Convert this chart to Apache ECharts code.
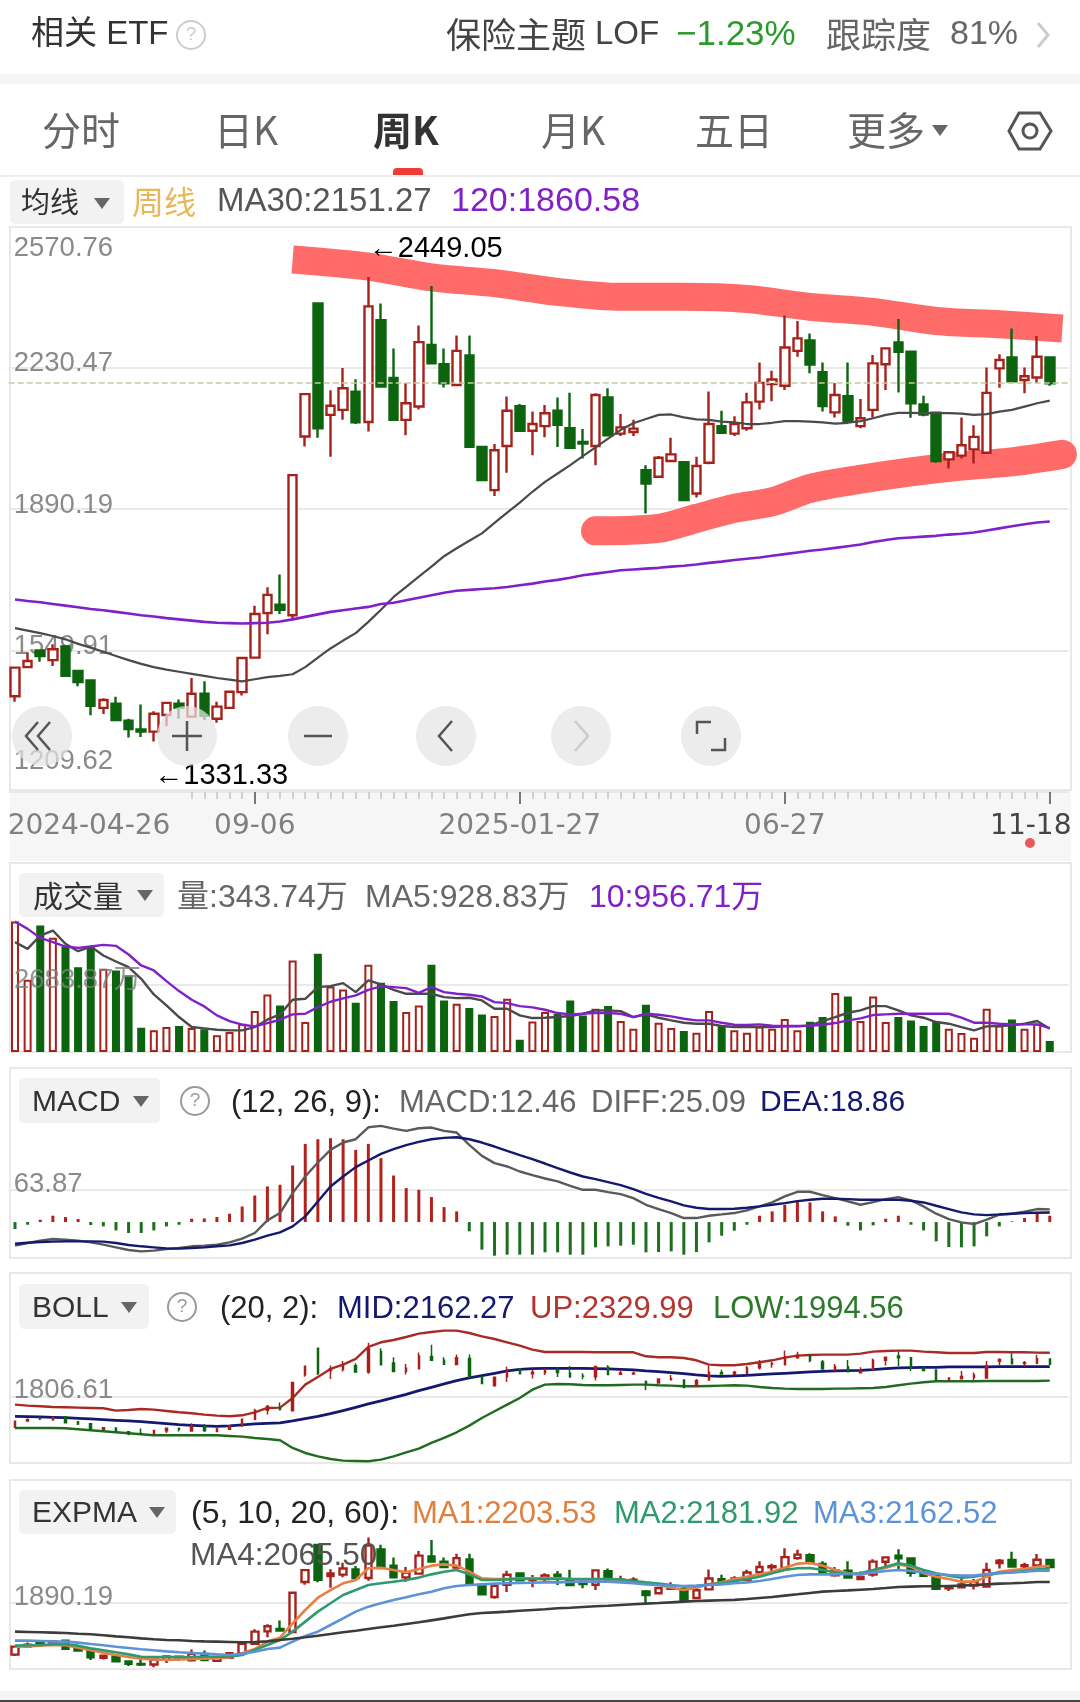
<!DOCTYPE html>
<html>
<head>
    <meta charset="utf-8">
    <title>周K</title>
    <script src="https://cdn.jsdelivr.net/npm/echarts@6/dist/echarts.min.js"></script>
    <style>
        html, body { margin: 0; padding: 0; background: #fff; }
        #chart { width: 1080px; height: 1702px; }
    </style>
</head>
<body>
<div id="chart"></div>
<script type="text/javascript">
    // 周线日期，最后一个空位给右边留白
    var categories = ['2024-04-26','05-03','05-10','05-17','05-24','05-31','06-07','06-14','06-21','06-28',
        '07-05','07-12','07-19','07-26','08-02','08-09','08-16','08-23','08-30','09-06',
        '09-13','09-20','09-27','10-04','10-11','10-18','10-25','11-01','11-08','11-15',
        '11-22','11-29','12-06','12-13','12-20','12-27','2025-01-03','01-10','01-17','01-24',
        '2025-01-27','02-07','02-14','02-21','02-28','03-07','03-14','03-21','03-28','04-03',
        '04-11','04-18','04-25','04-30','05-09','05-16','05-23','05-30','06-06','06-13',
        '06-20','06-27','07-04','07-11','07-18','07-25','08-01','08-08','08-15','08-22',
        '08-29','09-05','09-12','09-19','09-26','09-30','10-10','10-17','10-24','10-31',
        '11-07','11-14','11-18',''];
    var xLabelIdx = [0, 19, 40, 61, 82];

    var opens = [1440,1510,1550,1527,1560,1501,1478,1412,1422,1381,
        1360,1355,1395,1422,1391,1446,1386,1412,1450,1533,
        1640,1660,1635,2065,2385,2117,2129,2173,2100,2345,
        2206,2105,2137,2285,2239,2189,2260,2040,1936,2042,
        2138,2079,2090,2127,2085,2052,2042,2159,2072,2076,
        1984,1968,2006,2003,1928,2002,2090,2072,2085,2149,
        2191,2187,2271,2296,2220,2123,2162,2090,2129,2239,
        2291,2269,2142,2122,2010,2019,2034,2026,2229,2255,
        2201,2207,2255];
    var closes = [1509,1525,1537,1553,1489,1474,1417,1431,1383,1361,
        1355,1398,1424,1412,1446,1393,1415,1451,1532,1638,
        1684,1648,1972,2167,2085,2139,2181,2099,2378,2185,
        2105,2145,2292,2241,2193,2271,2040,1960,2032,2127,
        2079,2095,2121,2093,2038,2048,2165,2068,2087,2084,
        1952,2014,2022,1912,1994,2095,2074,2095,2147,2194,
        2202,2279,2301,2238,2138,2165,2103,2109,2241,2277,
        2269,2145,2118,2006,2027,2044,2064,2170,2249,2198,
        2210,2257,2193];
    var lows = [1427,1510,1523,1513,1489,1464,1394,1397,1383,1341,
        1342,1331.33,1368,1386,1389,1383,1376,1412,1442,1533,
        1589,1638,1625,2041,2062,2016,2105,2095,2077,2185,
        2105,2068,2130,2241,2183,2189,2040,1960,1922,1978,
        2079,2020,2063,2040,2038,2012,1996,2068,2066,2066,
        1880,1965,2006,1912,1918,1998,2074,2066,2079,2130,
        2150,2177,2257,2217,2125,2111,2103,2085,2111,2177,
        2171,2110,2114,2002,1988,2012,2000,2024,2182,2198,
        2169,2193,2187];
    var highs = [1509,1545,1550,1565,1560,1504,1478,1435,1439,1386,
        1420,1404,1427,1432,1484,1476,1427,1451,1535,1658,
        1702,1733,1972,2167,2385,2176,2230,2203,2449.05,2385,
        2277,2194,2332,2427,2277,2308,2308,2041,2047,2161,
        2143,2125,2141,2159,2170,2083,2169,2181,2119,2105,
        1996,2018,2062,2005,2016,2173,2127,2114,2170,2243,
        2223,2356,2343,2313,2243,2194,2243,2155,2261,2279,
        2348,2269,2163,2122,2030,2111,2092,2231,2263,2325,
        2231,2307,2255];
    var ma30 = [1604,1598,1592,1585,1577,1566,1557,1547,1537,1527,
        1518,1510,1504,1499,1494,1489,1484,1480,1476,1481,
        1486,1489,1493,1510,1533,1555,1574,1592,1619,1648,
        1679,1703,1728,1752,1777,1796,1814,1832,1857,1882,
        1906,1932,1956,1976,1996,2018,2039,2060,2081,2097,
        2107,2117,2118,2111,2106,2105,2101,2099,2095,2095,
        2098,2102,2102,2101,2099,2096,2098,2102,2109,2117,
        2122,2122,2121,2121,2121,2120,2117,2119,2125,2129,
        2137,2145,2151.27];
    var ma120 = [1673,1669,1666,1662,1658,1654,1650,1647,1643,1639,
        1635,1632,1628,1625,1622,1619,1617,1616,1615,1616,
        1617,1620,1625,1631,1637,1643,1647,1651,1655,1662,
        1665,1671,1677,1683,1689,1694,1696,1698,1700,1703,
        1707,1711,1716,1720,1725,1731,1735,1739,1743,1745,
        1747,1749,1752,1754,1757,1761,1764,1768,1771,1774,
        1778,1782,1786,1790,1793,1797,1801,1805,1811,1816,
        1820,1822,1824,1826,1829,1831,1834,1839,1844,1849,
        1854,1858,1860.58];
    // 手画的两条红线
    var upperIdx = [22,28,33,38,43,48,53,58,63,68,73,78,83];
    var upperVal = [2491,2474,2448,2434,2413,2401,2401,2396,2377,2365,2343,2335,2325];
    var lowerIdx = [46,51,54,57,60,63,67,71,75,79,83];
    var lowerVal = [1838,1844,1868,1892,1908,1940,1962,1980,1994,2004,2022];

    var volume = [5233,2897,5073,4579,4232,3404,4232,3338,3271,3071,
        975,868,1001,1041,961,908,668,801,1135,1642,
        2310,1869,3671,1202,3938,2630,2510,1976,3498,2777,
        2043,1602,1869,3498,2069,1936,1762,1509,1442,2136,
        494,1228,1602,1535,2069,1469,1736,1842,1242,935,
        1896,1175,961,841,774,1642,1041,868,774,1028,
        935,1322,868,1215,1402,2363,2229,1242,2229,1202,
        1402,1268,1041,1228,935,761,574,1736,1068,1308,
        935,1135,441];
    var volMa5 = [4406,4139,4673,4873,4339,4045,4232,3872,3631,3404,
        2937,2310,1869,1402,1001,948,894,868,868,1001,
        1295,1509,2096,2136,2603,2643,2763,2403,2870,2710,
        2496,2336,2336,2336,2203,2163,2176,2069,1736,1736,
        1469,1362,1375,1402,1442,1535,1669,1669,1642,1402,
        1509,1375,1268,1175,1135,1135,1041,1001,1001,1001,
        1001,1028,1028,1068,1242,1402,1575,1669,1842,1842,
        1669,1469,1375,1202,1135,1001,868,1028,1041,1068,
        1135,1242,929];
    var volMa10 = [5233,4940,4579,4406,4232,4179,4232,4299,4259,3912,
        3471,3271,2844,2443,2096,1829,1469,1242,1095,1028,
        1161,1295,1509,1535,1802,2016,2149,2270,2496,2630,
        2603,2563,2376,2603,2403,2336,2296,2229,2003,1962,
        1842,1789,1695,1562,1509,1535,1575,1562,1535,1402,
        1535,1495,1428,1335,1268,1268,1175,1095,1081,1108,
        1055,1041,1041,1055,1095,1161,1268,1348,1482,1509,
        1535,1535,1535,1535,1535,1375,1175,1175,1135,1108,
        1108,1108,957];

    var macd = [-13.8,-5.3,4.6,12.5,9.9,5.9,-5.9,-8.6,-16.5,-21.7,
        -21.7,-16.5,-8.6,-5.3,6.6,7.2,9.9,16.5,30.9,52.6,
        70.4,73.7,111.9,154.6,163.8,165.8,163.8,142.8,154.6,126.3,
        92.1,67.1,63.8,49.4,29.6,21.1,-18.4,-54.6,-66.5,-64.5,
        -64.5,-64.5,-59.9,-59.9,-64.5,-64.5,-50,-48,-46.7,-44.7,
        -59.9,-59.2,-57.9,-64.5,-59.2,-40.1,-27,-17.1,-5.3,12.5,
        21.1,34.2,42.8,38.8,21.1,11.2,-7.2,-16.5,-6.6,6.6,
        12.5,-5.3,-16.5,-38.2,-49.4,-50,-48,-28.3,-8.6,1.3,
        7.9,17.8,12.46];
    var diff = [-46.7,-41.5,-36.8,-33.6,-34.9,-36.8,-40.1,-44.7,-50,-55.3,
        -57.9,-56.6,-53.3,-51.3,-48,-46.7,-44.7,-40.1,-32.9,-21.7,
        3.3,17.8,57.2,90.1,117.8,142.8,157.3,163.8,187.5,190.2,
        184.9,180.3,185.6,186.9,180.3,177,152.7,130.9,116.5,109.9,
        100,92.8,86.2,80.3,71.7,63.8,63.8,59.2,55.3,47.4,
        34.2,25.7,17.8,7.9,7.9,12.5,15.1,17.8,23,30.9,
        38.8,50.7,59.9,59.9,53.3,47.4,40.8,34.2,39.5,45.4,
        49.4,42.8,30.9,16.5,5.9,-0.7,-3.9,4.6,14.5,16.5,
        20.4,25.7,25.09];
    var dea = [-42.8,-40.8,-39.5,-38.8,-38.2,-38.2,-38.2,-38.8,-41.5,-45.4,
        -48,-50,-52,-52.6,-51.3,-50,-48,-46.1,-41.5,-34.9,
        -27,-20.4,-8.6,11.2,40.8,70.4,90.1,108.6,121.7,134.9,
        144.1,152,158.6,163.8,166.5,167.8,163.8,157.3,149.4,140.8,
        132.3,124.4,115.8,106.6,98,90.1,84.9,79,73,65.1,
        55.9,48,40.8,32.9,28.3,25.7,25.7,26.3,28.3,30.9,
        34.2,37.5,41.5,44.1,46.1,46.1,45.4,44.1,44.1,44.1,
        44.1,42.1,38.8,32.2,25.7,19.1,15.1,13.8,15.1,16.5,
        17.8,18.4,18.86];

    var bollUp = [1707,1695,1687,1679,1675,1671,1667,1663,1635,1643,
        1655,1647,1631,1615,1603,1587,1575,1567,1579,1615,
        1667,1671,1787,1947,2039,2135,2187,2255,2399,2455,
        2483,2519,2559,2579,2595,2595,2567,2527,2495,2455,
        2415,2367,2339,2339,2339,2339,2335,2335,2335,2335,
        2287,2275,2275,2267,2239,2187,2179,2179,2195,2215,
        2239,2271,2295,2303,2307,2307,2307,2319,2343,2351,
        2355,2355,2343,2335,2327,2327,2327,2339,2339,2335,
        2335,2331,2329.99];
    var bollMid = [1567,1563,1559,1555,1551,1543,1535,1527,1519,1511,
        1503,1491,1479,1467,1459,1451,1447,1451,1463,1475,
        1483,1487,1511,1539,1567,1599,1635,1675,1715,1751,
        1791,1831,1875,1915,1955,1995,2027,2055,2083,2111,
        2131,2139,2143,2143,2143,2143,2139,2135,2131,2123,
        2111,2103,2091,2079,2063,2051,2047,2051,2059,2067,
        2075,2083,2091,2099,2107,2111,2115,2119,2127,2139,
        2147,2151,2155,2155,2159,2159,2159,2159,2163,2163,
        2163,2163,2162.27];
    var bollLow = [1427,1427,1427,1427,1423,1411,1399,1387,1375,1363,
        1351,1339,1339,1339,1339,1339,1339,1331,1323,1307,
        1295,1279,1187,1127,1087,1055,1035,1031,1027,1047,
        1087,1135,1179,1247,1307,1375,1455,1547,1627,1707,
        1787,1887,1947,1955,1951,1943,1939,1939,1943,1947,
        1947,1939,1935,1927,1927,1931,1935,1939,1935,1919,
        1907,1899,1895,1895,1895,1899,1899,1903,1907,1919,
        1939,1959,1975,1987,1987,1987,1987,1991,1991,1991,
        1991,1991,1994.56];

    var expma1 = [1508,1511,1517,1523,1520,1500,1477,1457,1437,1419,
        1405,1399,1394,1399,1402,1405,1408,1414,1451,1488,
        1552,1586,1709,1824,1930,1996,2054,2082,2183,2188,
        2168,2148,2177,2206,2217,2206,2154,2097,2091,2091,
        2097,2097,2097,2097,2091,2085,2091,2088,2080,2068,
        2054,2039,2016,1996,2016,2045,2062,2091,2111,2131,
        2154,2188,2223,2229,2206,2168,2140,2126,2160,2188,
        2217,2197,2140,2111,2091,2068,2068,2111,2154,2168,
        2177,2197,2203.53];
    var expma2 = [1517,1520,1523,1529,1529,1517,1494,1477,1460,1442,
        1422,1419,1419,1419,1419,1422,1422,1422,1437,1480,
        1523,1566,1638,1724,1810,1882,1953,1996,2039,2054,
        2068,2082,2103,2131,2154,2168,2131,2082,2082,2088,
        2091,2091,2091,2091,2091,2091,2091,2091,2088,2074,
        2062,2051,2039,2025,2031,2045,2054,2074,2091,2111,
        2140,2168,2183,2186,2168,2148,2134,2140,2168,2197,
        2226,2206,2168,2140,2120,2103,2111,2131,2140,2148,
        2160,2174,2181.92];
    var expma3 = [1560,1560,1557,1554,1552,1543,1531,1520,1508,1497,
        1486,1477,1468,1460,1454,1448,1442,1437,1448,1465,
        1488,1500,1552,1600,1638,1695,1752,1810,1853,1882,
        1911,1933,1959,1982,2011,2031,2039,2045,2051,2054,
        2057,2059,2062,2062,2065,2068,2068,2068,2062,2054,
        2045,2039,2034,2031,2034,2039,2045,2054,2062,2074,
        2091,2111,2126,2131,2131,2131,2134,2134,2146,2160,
        2168,2160,2146,2134,2126,2120,2120,2134,2146,2148,
        2154,2163,2162.52];
    var expma4 = [1638,1635,1632,1629,1626,1620,1615,1606,1597,1589,
        1580,1572,1566,1563,1557,1554,1552,1549,1546,1549,
        1554,1566,1577,1589,1603,1617,1632,1646,1661,1675,
        1689,1704,1718,1735,1752,1770,1787,1798,1804,1810,
        1818,1824,1830,1839,1844,1850,1856,1861,1867,1873,
        1879,1884,1890,1896,1902,1905,1908,1911,1919,1928,
        1936,1948,1959,1971,1982,1988,1993,1999,2005,2013,
        2022,2025,2028,2028,2031,2034,2039,2045,2051,2054,
        2059,2065,2065.5];

    var mainTicks = [1209.62, 1549.91, 1890.19, 2230.47, 2570.76];

    var RED = '#a8201a', GREEN = '#0c640f', GREY = '#4a4a4a', PURPLE = '#8020c8', NAVY = '#14186e';
    var FONT = '"Liberation Sans","Noto Sans CJK SC",sans-serif';
    var CJK = '"Noto Sans CJK SC","Liberation Sans",sans-serif';
    var DEJA = '"DejaVu Sans",sans-serif';
    var LABEL_GREY = 'rgba(125,125,125,0.9)';
    var GRID_LEFT = 8.7, GRID_W = 1060;

    var ohlc = opens.map(function (o, i) { return [o, closes[i], lows[i], highs[i]]; });
    var pairs = function (idx, val) { return idx.map(function (x, i) { return [x, val[i]]; }); };

    function lineSeries(name, data, color, grid, width, z) {
        return {
            name: name, type: 'line', data: data, xAxisIndex: grid, yAxisIndex: grid,
            showSymbol: false, symbol: 'none', silent: true, z: z || 5,
            lineStyle: { color: color, width: width || 2.4 }
        };
    }

    function xAxisOf(grid) {
        return {
            type: 'category', gridIndex: grid, data: categories, show: true,
            axisLine: { show: false }, axisTick: { show: false }, axisLabel: { show: false }, splitLine: { show: false }
        };
    }

    function yAxisOf(grid, min, max, tick, label, pad) {
        return {
            type: 'value', gridIndex: grid, min: min, max: max, scale: true,
            axisLine: { show: false },
            axisTick: { show: false, customValues: [tick] },
            splitLine: { show: true, lineStyle: { color: '#e9e9e9', width: 2 } },
            axisLabel: {
                show: !!label, inside: true, margin: 5, color: LABEL_GREY, fontSize: 27.5, fontFamily: FONT,
                customValues: [tick],
                formatter: function () { return '{a|' + label + '}'; },
                rich: { a: { color: LABEL_GREY, fontSize: 27.5, fontFamily: FONT, padding: [0, 0, pad, 0] } }
            }
        };
    }

    var mainRect = { left: GRID_LEFT, width: GRID_W, top: 226.3, height: 565.7 };
    var grids = [
        mainRect,
        { left: GRID_LEFT, width: GRID_W, top: 863, height: 189 },
        { left: GRID_LEFT, width: GRID_W, top: 1068, height: 190 },
        { left: GRID_LEFT, width: GRID_W, top: 1273, height: 190 },
        { left: GRID_LEFT, width: GRID_W, top: 1480, height: 189 },
        mainRect
    ];

    var xAxes = [
        {
            // 每根K线一个小刻度
            type: 'category', gridIndex: 0, data: categories, position: 'bottom', z: 3,
            axisLine: { show: false }, axisLabel: { show: false }, splitLine: { show: false },
            axisTick: {
                show: true, alignWithLabel: true, length: 7, lineStyle: { color: '#c4c4c4', width: 1.5 },
                interval: function (i) { return i >= 14 && i <= 82; }
            }
        },
        xAxisOf(1), xAxisOf(2), xAxisOf(3), xAxisOf(4),
        {
            // 日期和长刻度
            type: 'category', gridIndex: 5, data: categories, position: 'bottom', z: 4,
            axisLine: { show: false },
            axisTick: {
                show: true, alignWithLabel: true, length: 12, lineStyle: { color: '#777', width: 2 },
                interval: function (i) { return i > 0 && xLabelIdx.indexOf(i) >= 0; }
            },
            axisLabel: {
                show: true, margin: 21, color: '#808080', fontSize: 28, fontFamily: DEJA,
                interval: function (i) { return xLabelIdx.indexOf(i) >= 0; },
                formatter: function (v, i) {
                    if (i === 0) return '{first|' + v + '}';
                    if (i === 82) return '{last|' + v + '}';
                    return v;
                },
                rich: {
                    first: { color: '#808080', fontSize: 28, fontFamily: DEJA, padding: [0, 0, 0, 148] },
                    last: { color: '#444', fontSize: 28, fontFamily: DEJA, padding: [0, 38, 0, 0] }
                }
            },
            splitLine: { show: false }
        }
    ];

    var yAxes = [
        {
            type: 'value', gridIndex: 0, min: 1209.62, max: 2570.76, scale: true, z: 1,
            axisLine: { show: false },
            axisTick: { show: false, customValues: mainTicks },
            splitLine: { show: true, lineStyle: { color: '#e9e9e9', width: 2 } },
            axisLabel: {
                inside: true, margin: 5, color: LABEL_GREY, fontSize: 27.5, fontFamily: FONT,
                customValues: mainTicks,
                formatter: function (v) {
                    if (v === 2570.76) return '{t|' + v + '}';
                    if (v === 1209.62) return '{b|' + v + '}';
                    return '{m|' + v + '}';
                },
                rich: {
                    t: { color: LABEL_GREY, fontSize: 27.5, fontFamily: FONT, padding: [44, 0, 0, 0] },
                    m: { color: LABEL_GREY, fontSize: 27.5, fontFamily: FONT, padding: [0, 0, 8, 0] },
                    b: { color: LABEL_GREY, fontSize: 27.5, fontFamily: FONT, padding: [0, 0, 62, 0] }
                }
            }
        },
        yAxisOf(1, 0, 7583, 2683.87, '', 0),
        yAxisOf(2, -71.1, 304.7, 63.87, '63.87', 10),
        yAxisOf(3, 1006.6, 3286.6, 1806.61, '1806.61', 12),
        yAxisOf(4, 1316, 2943.5, 1890.19, '1890.19', 10),
        { type: 'value', gridIndex: 5, show: false, min: 1209.62, max: 2570.76, scale: true }
    ];

    var candleStyle = { color: '#fff', color0: GREEN, borderColor: RED, borderColor0: GREEN, borderWidth: 2.4 };

    var series = [
        // 红色手绘线放在K线下面
        {
            name: '上轨手绘', type: 'line', data: pairs(upperIdx, upperVal), xAxisIndex: 0, yAxisIndex: 0, smooth: 0.3,
            showSymbol: false, symbol: 'none', silent: true, z: 1,
            lineStyle: { color: '#ff6b68', width: 28, cap: 'butt', join: 'round' }
        },
        {
            name: '下轨手绘', type: 'line', data: pairs(lowerIdx, lowerVal), xAxisIndex: 0, yAxisIndex: 0, smooth: 0.3, clip: false,
            showSymbol: false, symbol: 'none', silent: true, z: 1,
            lineStyle: { color: '#ff6b68', width: 29, cap: 'round', join: 'round' }
        },
        {
            name: '周K', type: 'candlestick', data: ohlc, xAxisIndex: 0, yAxisIndex: 0, barWidth: 9, z: 3,
            itemStyle: candleStyle,
            markLine: {
                silent: true, symbol: 'none', label: { show: false }, animation: false,
                lineStyle: { color: '#cbc6a0', type: 'dashed', width: 1.5 },
                data: [{ yAxis: 2195 }]
            },
            markPoint: {
                silent: true, symbol: 'circle', symbolSize: 1, itemStyle: { color: 'rgba(0,0,0,0)' },
                label: { show: true, position: 'right', distance: 0, color: '#000', fontSize: 29, fontFamily: FONT },
                data: [
                    { coord: [28, 2449.05], label: { formatter: '←2449.05', offset: [0, -28] } },
                    { coord: [11, 1331.33], label: { formatter: '←1331.33', offset: [0, 35] } }
                ]
            }
        },
        lineSeries('MA30', ma30, GREY, 0, 2.2),
        lineSeries('MA120', ma120, PURPLE, 0, 2.6),

        {
            name: '成交量', type: 'bar', xAxisIndex: 1, yAxisIndex: 1, barWidth: 8, z: 3,
            data: volume.map(function (v, i) {
                var up = closes[i] >= opens[i];
                return {
                    value: v,
                    itemStyle: up ? { color: '#fff', borderColor: RED, borderWidth: 2 } : { color: GREEN, borderColor: GREEN, borderWidth: 1.5 }
                };
            })
        },
        lineSeries('量MA5', volMa5, GREY, 1),
        lineSeries('量MA10', volMa10, PURPLE, 1),

        {
            name: 'MACD', type: 'bar', xAxisIndex: 2, yAxisIndex: 2, barWidth: 3, z: 3,
            data: macd.map(function (v) { return { value: v, itemStyle: { color: v >= 0 ? '#b3211b' : '#1d6f1d' } }; })
        },
        lineSeries('DIFF', diff, '#5a5a5a', 2),
        lineSeries('DEA', dea, NAVY, 2),

        lineSeries('UP', bollUp, '#a82a24', 3),
        lineSeries('MID', bollMid, NAVY, 3, 2.8),
        lineSeries('LOW', bollLow, '#1f6b1f', 3),
        {
            name: 'BOLL周K', type: 'candlestick', data: ohlc, xAxisIndex: 3, yAxisIndex: 3, barWidth: 2, z: 6,
            itemStyle: { color: RED, color0: GREEN, borderColor: RED, borderColor0: GREEN, borderWidth: 1.5 }
        },

        {
            name: 'EXPMA周K', type: 'candlestick', data: ohlc, xAxisIndex: 4, yAxisIndex: 4, barWidth: 7, z: 3,
            itemStyle: candleStyle
        },
        lineSeries('MA1', expma1, '#e97f45', 4, 2.6),
        lineSeries('MA2', expma2, '#2f9a6e', 4, 2.6),
        lineSeries('MA3', expma3, '#5c93d8', 4, 2.6),
        lineSeries('MA4', expma4, '#3c3c3c', 4, 2.6)
    ];

    // 页面上的文字和控件
    var els = [];
    function txt(x, y, s, size, color, extra) {
        var style = { x: x, y: y, text: s, fontSize: size, fill: color, fontFamily: FONT, verticalAlign: 'middle', align: 'left' };
        for (var k in (extra || {})) style[k] = extra[k];
        els.push({ type: 'text', z: 20, silent: true, style: style });
    }
    function box(x, y, w, h, fill, r) {
        els.push({ type: 'rect', z: 0, silent: true, shape: { x: x, y: y, width: w, height: h, r: r || 0 }, style: { fill: fill } });
    }
    function frame(y, h) {
        els.push({ type: 'rect', z: 0, silent: true, shape: { x: 10, y: y, width: 1061, height: h }, style: { fill: 'none', stroke: '#e8e8e8', lineWidth: 2 } });
    }
    function tri(x, y) {
        els.push({ type: 'polygon', z: 20, silent: true, shape: { points: [[x - 8, y - 5], [x + 8, y - 5], [x, y + 6]] }, style: { fill: '#666' } });
    }
    function help(x, y, color) {
        els.push({ type: 'circle', z: 20, silent: true, shape: { cx: x, cy: y, r: 14 }, style: { fill: 'none', stroke: color, lineWidth: 2 } });
        txt(x, y, '?', 19, color, { align: 'center' });
    }
    function btn(x, lines, color) {
        els.push({ type: 'circle', z: 30, silent: true, shape: { cx: x, cy: 736, r: 30 }, style: { fill: 'rgba(228,228,228,0.72)' } });
        lines.forEach(function (p) {
            els.push({ type: 'polyline', z: 31, silent: true, shape: { points: p.map(function (q) { return [x + q[0], 736 + q[1]]; }) }, style: { fill: 'none', stroke: color || '#555', lineWidth: 2.5 } });
        });
    }

    // 顶部
    txt(31, 35, '相关 ETF', 33, '#333');
    help(191, 35, '#ccc');
    txt(446, 35, '保险主题', 35, '#444', { fontFamily: CJK });
    txt(595, 35, 'LOF', 33, '#444');
    txt(676, 35, '−1.23%', 35, '#2a9a2a');
    txt(826, 35, '跟踪度', 35, '#666', { fontFamily: CJK });
    txt(950, 35, '81%', 34, '#666');
    els.push({ type: 'polyline', z: 20, silent: true, shape: { points: [[1038, 23], [1048, 35], [1038, 47]] }, style: { fill: 'none', stroke: '#ccc', lineWidth: 3 } });
    box(0, 74, 1080, 10, '#f5f5f5');

    txt(42, 130, '分时', 39, '#666', { fontFamily: CJK });
    txt(214, 130, '日K', 39, '#666', { fontFamily: CJK });
    txt(373, 130, '周K', 39, '#333', { fontFamily: CJK, fontWeight: 'bold' });
    txt(541, 130, '月K', 39, '#666', { fontFamily: CJK });
    txt(695, 130, '五日', 39, '#666', { fontFamily: CJK });
    txt(847, 130, '更多', 39, '#666', { fontFamily: CJK });
    tri(940, 130);
    els.push({ type: 'polygon', z: 20, silent: true, shape: { points: [[1009, 131], [1019, 113], [1040, 113], [1051, 131], [1040, 149], [1019, 149]] }, style: { fill: 'none', stroke: '#555', lineWidth: 3 } });
    els.push({ type: 'circle', z: 20, silent: true, shape: { cx: 1030, cy: 131, r: 7 }, style: { fill: 'none', stroke: '#555', lineWidth: 3 } });
    box(393, 168, 30, 7, '#ee3b35', [4, 4, 0, 0]);
    box(0, 175, 1080, 2, '#eee');

    // 主图
    box(10, 180, 114, 44, '#f2f2f2', 5);
    txt(21, 202, '均线', 29, '#333', { fontFamily: CJK });
    tri(102, 203);
    txt(132, 202, '周线', 32, '#e8b75a', { fontFamily: CJK });
    txt(217, 202, 'MA30:2151.27', 33, '#555');
    txt(451, 202, '120:1860.58', 34, PURPLE);
    frame(227, 563);
    box(10, 791, 1061, 70, '#f6f6f6');

    btn(42, [[[-4, -14], [-16, 0], [-4, 14]], [[8, -14], [-4, 0], [8, 14]]]);
    btn(187, [[[-15, 0], [15, 0]], [[0, -15], [0, 15]]]);
    btn(318, [[[-14, 0], [14, 0]]]);
    btn(446, [[[6, -15], [-7, 0], [6, 15]]]);
    btn(581, [[[-6, -15], [7, 0], [-6, 15]]], '#ccc');
    btn(711, [[[-14, -2], [-14, -14], [0, -14]], [[14, 2], [14, 14], [0, 14]]]);
    els.push({ type: 'circle', z: 20, silent: true, shape: { cx: 1030, cy: 843, r: 5 }, style: { fill: '#e8595a' } });

    // 成交量
    frame(863, 189);
    box(19, 873, 145, 44, '#f2f2f2', 5);
    txt(33, 896, '成交量', 30, '#333', { fontFamily: CJK });
    tri(145, 895);
    txt(177, 898, '量:343.74万', 32, '#666');
    txt(365, 898, 'MA5:928.83万', 32, '#666');
    txt(589, 898, '10:956.71万', 32, PURPLE);
    txt(14, 980, '2683.87万', 27.5, 'rgba(125,125,125,0.8)');

    // MACD
    frame(1068, 190);
    box(19, 1078, 141, 45, '#f2f2f2', 5);
    txt(32, 1103, 'MACD', 30, '#333');
    tri(141, 1101);
    help(195, 1101, '#999');
    txt(231, 1103, '(12, 26, 9):', 31, '#222');
    txt(399, 1103, 'MACD:12.46', 31, '#666');
    txt(591, 1103, 'DIFF:25.09', 31, '#666');
    txt(760, 1103, 'DEA:18.86', 30, NAVY);

    // BOLL
    frame(1273, 190);
    box(19, 1284, 130, 45, '#f2f2f2', 5);
    txt(32, 1309, 'BOLL', 30, '#333');
    tri(129, 1307);
    help(182, 1307, '#999');
    txt(220, 1309, '(20, 2):', 31, '#222');
    txt(337, 1309, 'MID:2162.27', 31, NAVY);
    txt(530, 1309, 'UP:2329.99', 31, '#b5342c');
    txt(713, 1309, 'LOW:1994.56', 31, '#2a7a2a');

    // EXPMA
    frame(1480, 189);
    box(19, 1490, 157, 44, '#f2f2f2', 5);
    txt(32, 1514, 'EXPMA', 30, '#333');
    tri(157, 1512);
    txt(191, 1514, '(5, 10, 20, 60):', 32, '#222');
    txt(412, 1514, 'MA1:2203.53', 31, '#e0803f');
    txt(614, 1514, 'MA2:2181.92', 31, '#2f9a6e');
    txt(813, 1514, 'MA3:2162.52', 31, '#5c93d8');
    txt(190, 1556, 'MA4:2065.50', 31.5, '#555');

    box(0, 1691, 1080, 9, '#f5f5f5');
    box(0, 1700, 1080, 2, '#444');

    var myChart = echarts.init(document.getElementById('chart'));
    myChart.setOption({
        animation: false,
        backgroundColor: '#fff',
        grid: grids,
        xAxis: xAxes,
        yAxis: yAxes,
        series: series,
        graphic: { elements: els }
    });
</script>
</body>
</html>
